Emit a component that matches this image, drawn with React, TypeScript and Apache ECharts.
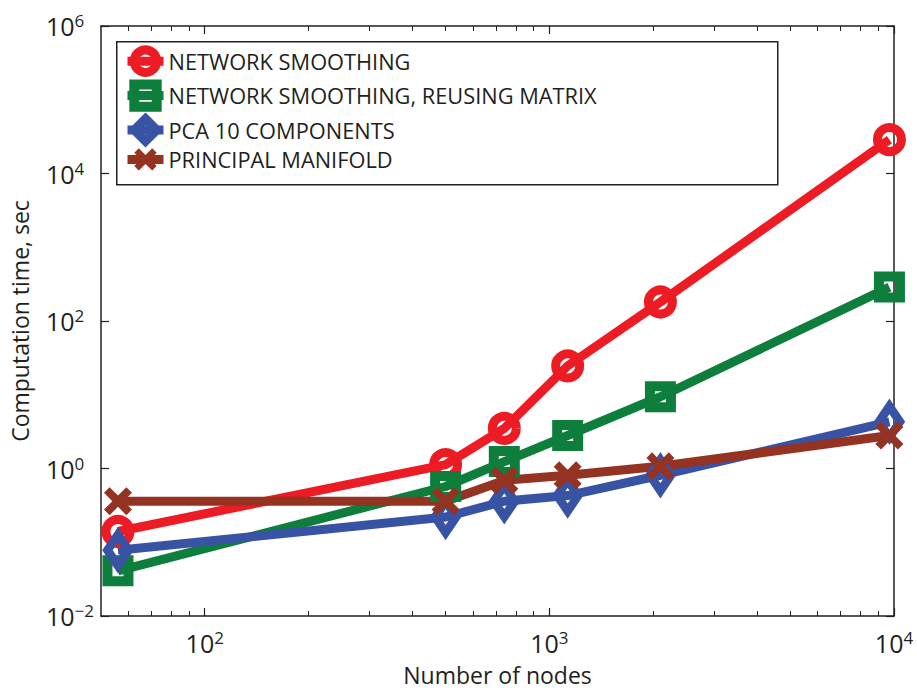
import React, { useEffect, useRef } from 'react';
import * as echarts from 'echarts';

const nodes = [56, 500, 740, 1130, 2100, 9700];
const networkSmoothing = [0.14, 1.13, 3.5, 24.6, 181, 28800];
const reusingMatrix = [0.041, 0.57, 1.24, 2.8, 9.4, 288];
const pca10 = [0.078, 0.22, 0.36, 0.43, 0.81, 4.3];
const principalManifold = [0.36, 0.36, 0.69, 0.81, 1.07, 2.8];

const seriesNames = [
  'NETWORK SMOOTHING',
  'NETWORK SMOOTHING, REUSING MATRIX',
  'PCA 10 COMPONENTS',
  'PRINCIPAL MANIFOLD',
];
const seriesColors = ['#ED1C24', '#0E7E3C', '#3953A4', '#943322'];

const xMajorTicks = [100, 1000, 10000];
const xMinorTicks = [60, 70, 80, 90, 200, 300, 400, 500, 600, 700, 800, 900, 2000, 3000, 4000, 5000, 6000, 7000, 8000, 9000];
const yTicks = [0.01, 1, 100, 10000, 1000000];

const FONT = '"Open Sans", "Noto Sans", sans-serif';
const TEXT = '#231F20';
const X_PATH = 'path://M0,2 L2,0 L5,3 L8,0 L10,2 L7,5 L10,8 L8,10 L5,7 L2,10 L0,8 L3,5 Z';

const powLabel = (v: number) => {
  const e = Math.round(Math.log10(v));
  return `{b|10}{s|${e < 0 ? '\u2212' + -e : e}}`;
};
const richPow = {
  b: { fontSize: 25, fontFamily: FONT, color: TEXT, lineHeight: 28 },
  s: { fontSize: 17, fontFamily: FONT, color: TEXT, verticalAlign: 'top', lineHeight: 12 },
};
const axisLine = { show: true, lineStyle: { color: '#231F20', width: 1.5 } };

export default function App() {
  const ref = useRef<HTMLDivElement>(null);
  useEffect(() => {
    const chart = echarts.init(ref.current!, null, { renderer: 'svg' });
    const datasets = [networkSmoothing, reusingMatrix, pca10, principalManifold];
    const symbols: any[] = ['circle', 'rect', 'diamond', X_PATH];
    const sizes: any[] = [24, 21, [21, 31], 28];
    const borders = [9, 10, 9, 0];
    const xBase = { type: 'log', min: 50, max: 10000, splitLine: { show: false }, gridIndex: 0 };
    chart.setOption({
      animation: false,
      backgroundColor: '#fff',
      grid: { left: 100, top: 26, right: 23, bottom: 71 },
      graphic: [
        {
          type: 'rect',
          left: 116,
          top: 41,
          z: 3,
          shape: { width: 661, height: 143 },
          style: { fill: '#fff', stroke: '#231F20', lineWidth: 1.5 },
        },
      ],
      legend: {
        orient: 'vertical',
        left: 116,
        top: 41,
        z: 5,
        backgroundColor: 'transparent',
        borderWidth: 0,
        padding: [4.5, 0, 3, 7],
        itemWidth: 36,
        itemHeight: 28,
        itemGap: 2.5,
        itemStyle: { borderWidth: 'inherit' },
        lineStyle: { width: 'inherit' },
        textStyle: { fontFamily: FONT, fontSize: 21.8, color: TEXT },
        data: seriesNames,
      },
      xAxis: [
        {
          ...xBase,
          position: 'bottom',
          axisLine,
          axisTick: { show: true, inside: true, length: 8, customValues: xMajorTicks, lineStyle: { color: '#231F20', width: 1.2 } },
          axisLabel: { customValues: xMajorTicks, formatter: powLabel, rich: richPow, margin: 13 },
          name: 'Number of nodes',
          nameLocation: 'middle',
          nameGap: 47,
          nameTextStyle: { fontFamily: FONT, fontSize: 23, color: TEXT },
        },
        {
          ...xBase,
          position: 'bottom',
          axisLine: { show: false },
          axisTick: { show: true, inside: true, length: 5, customValues: xMinorTicks, lineStyle: { color: '#231F20', width: 1 } },
          axisLabel: { show: false },
        },
        {
          ...xBase,
          position: 'top',
          axisLine,
          axisTick: { show: true, inside: true, length: 8, customValues: xMajorTicks, lineStyle: { color: '#231F20', width: 1.2 } },
          axisLabel: { show: false },
        },
        {
          ...xBase,
          position: 'top',
          axisLine: { show: false },
          axisTick: { show: true, inside: true, length: 5, customValues: xMinorTicks, lineStyle: { color: '#231F20', width: 1 } },
          axisLabel: { show: false },
        },
      ],
      yAxis: [
        {
          type: 'log',
          min: 0.01,
          max: 1000000,
          position: 'left',
          splitLine: { show: false },
          axisLine,
          axisTick: { show: true, inside: true, length: 8, customValues: yTicks, lineStyle: { color: '#231F20', width: 1.2 } },
          axisLabel: { customValues: yTicks, formatter: powLabel, rich: richPow, align: 'left', margin: 55 },
          name: 'Computation time, sec',
          nameLocation: 'middle',
          nameGap: 70,
          nameRotate: 90,
          nameTextStyle: { fontFamily: FONT, fontSize: 23, color: TEXT },
        },
        {
          type: 'log',
          min: 0.01,
          max: 1000000,
          position: 'right',
          splitLine: { show: false },
          axisLine,
          axisTick: { show: true, inside: true, length: 8, customValues: yTicks, lineStyle: { color: '#231F20', width: 1.2 } },
          axisLabel: { show: false },
        },
      ],
      series: seriesNames.map((name, k) => ({
        name,
        type: 'line',
        xAxisIndex: 0,
        yAxisIndex: 0,
        data: nodes.map((x, i) => [x, datasets[k][i]]),
        symbol: symbols[k],
        symbolSize: sizes[k],
        showAllSymbol: true,
        lineStyle: { color: seriesColors[k], width: 9 },
        itemStyle:
          k === 3
            ? { color: seriesColors[k], borderWidth: 0 }
            : { color: 'rgba(255,255,255,0)', borderColor: seriesColors[k], borderWidth: borders[k] },
        emphasis: { disabled: true },
      })),
    });
    return () => chart.dispose();
  }, []);
  return <div ref={ref} style={{ position: 'fixed', left: 0, top: 0, width: 917, height: 691 }} />;
}
